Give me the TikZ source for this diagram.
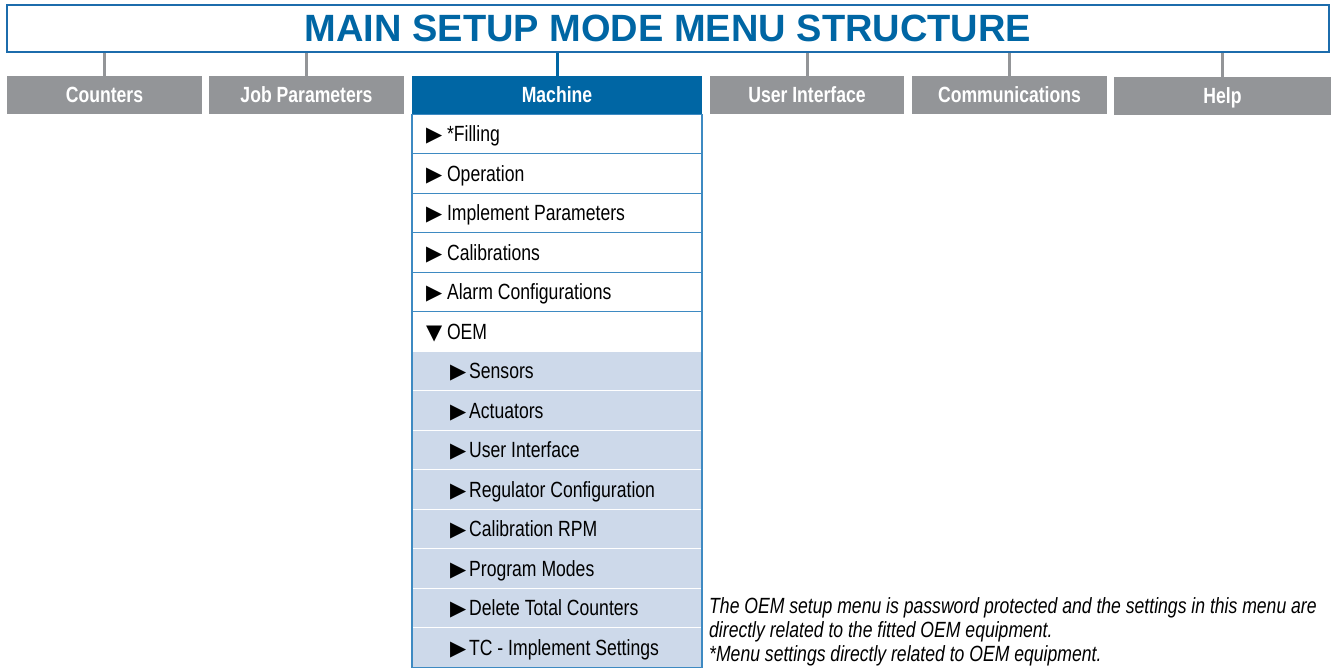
\documentclass[tikz,border=0pt]{standalone}
\usepackage{fontspec}
\setmainfont{Liberation Sans}[FakeStretch=0.8]
\newfontfamily\titlefont{Liberation Sans}
\newfontfamily\symfont{DejaVu Sans}
\usetikzlibrary{positioning}
\definecolor{mainblue}{RGB}{0,102,164}
\definecolor{titleblue}{RGB}{28,108,172}
\definecolor{rowblue}{RGB}{62,138,194}
\definecolor{tabgray}{RGB}{147,149,152}
\definecolor{subfill}{RGB}{205,217,234}
\newcommand{\tri}{{\symfont\fontsize{21}{21}\selectfont ▶}}
\newcommand{\tridown}{{\symfont\fontsize{21}{21}\selectfont ▼}}

\begin{document}
\begin{tikzpicture}[x=1pt, y=-1pt,
  node distance=0pt,
  titlebox/.style={rectangle, draw=titleblue, line width=2pt, fill=white,
                   minimum width=1322pt, minimum height=47pt, text=mainblue,
                   font=\titlefont\bfseries\fontsize{38}{38}\selectfont},
  tab/.style={rectangle, fill=tabgray, text=white, minimum height=38pt,
              inner sep=0pt, text height=17pt, text depth=1.2pt,
              font=\bfseries\fontsize{22}{24}\selectfont},
  seltab/.style={tab, fill=mainblue},
  conn/.style={draw=tabgray, line width=3pt},
  selconn/.style={conn, draw=mainblue},
  mainrow/.style={rectangle, draw=rowblue, line width=1.2pt, fill=white,
                  outer sep=0pt, minimum height=39.5pt, text width=262pt,
                  inner xsep=14pt, align=flush left, text height=17pt,
                  text depth=1.2pt, font=\fontsize{22}{24}\selectfont},
  subrow/.style={mainrow, draw=white, fill=subfill,
                 execute at begin node={\hspace*{24pt}}},
  note/.style={align=flush left, inner sep=0pt,
               font=\itshape\fontsize{22}{24}\selectfont}]
\useasboundingbox (0,0) rectangle (1335,668);
\node[titlebox] (title) at (668,28.5) {MAIN SETUP MODE MENU STRUCTURE};
% top level tabs
\node[tab, minimum width=195pt] (counters) at (104.5,95) {Counters};
\node[tab, minimum width=195pt] (jobpar) at (306.5,95) {Job Parameters};
\node[seltab, minimum width=290pt] (machine) at (557,95) {Machine};
\node[tab, minimum width=194pt] (userif) at (807,95) {User Interface};
\node[tab, minimum width=195pt] (comms) at (1009.5,95) {Communications};
\node[tab, minimum width=217pt] (help) at (1222.5,96) {Help};
\draw[conn] (counters.north) -- (counters.north |- title.south);
\draw[conn] (jobpar.north) -- (jobpar.north |- title.south);
\draw[selconn] (machine.north) -- (machine.north |- title.south);
\draw[conn] (userif.north) -- (userif.north |- title.south);
\draw[conn] (comms.north) -- (comms.north |- title.south);
\draw[conn] (help.north) -- (help.north |- title.south);
% machine menu
\node[mainrow, below=of machine] (filling) {\tri\ *Filling};
\node[mainrow, below=of filling] (operation) {\tri\ Operation};
\node[mainrow, below=of operation] (implpar) {\tri\ Implement Parameters};
\node[mainrow, below=of implpar] (calib) {\tri\ Calibrations};
\node[mainrow, below=of calib] (alarm) {\tri\ Alarm Configurations};
\node[mainrow, below=of alarm] (oem) {\tridown\ OEM};
% OEM sub menu
\node[subrow, below=of oem] (sensors) {\tri\hspace{3pt}Sensors};
\node[subrow, below=of sensors] (actuators) {\tri\hspace{3pt}Actuators};
\node[subrow, below=of actuators] (uiface) {\tri\hspace{3pt}User Interface};
\node[subrow, below=of uiface] (regconf) {\tri\hspace{3pt}Regulator Configuration};
\node[subrow, below=of regconf] (calrpm) {\tri\hspace{3pt}Calibration RPM};
\node[subrow, below=of calrpm] (progmodes) {\tri\hspace{3pt}Program Modes};
\node[subrow, below=of progmodes] (deltotal) {\tri\hspace{3pt}Delete Total Counters};
\node[subrow, below=of deltotal] (tcset) {\tri\hspace{3pt}TC - Implement Settings};
\draw[rowblue, line width=1.2pt] (sensors.north west) |- (tcset.south east)
  -- (sensors.north east);
\node[note, anchor=north west] (oemnote) at (709,597)
  {The OEM setup menu is password protected and the settings in this menu are\\
   directly related to the fitted OEM equipment.\\{}*Menu settings directly related to OEM equipment.};
\end{tikzpicture}
\end{document}
